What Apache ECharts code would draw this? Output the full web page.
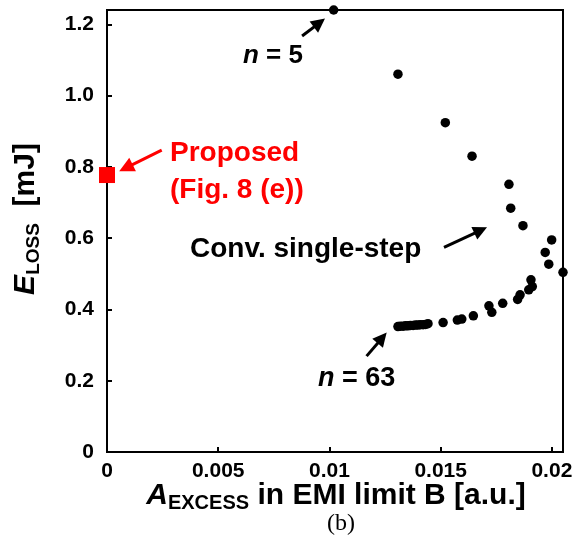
<!DOCTYPE html>
<html>
<head>
<meta charset="utf-8">
<script src="https://cdn.jsdelivr.net/npm/echarts@6/dist/echarts.min.js"></script>
<style>html,body{margin:0;padding:0;background:#fff;}#c{width:578px;height:544px;}</style>
</head>
<body>
<div id="c"></div>
<script>
// Conventional single-step: A_EXCESS (a.u.) and E_LOSS (mJ), n = 5 ... 63
const convX = [0.01019, 0.01308, 0.01521, 0.01641, 0.01807, 0.01815, 0.01870, 0.01999, 0.01970, 0.01986, 0.02050,
  0.01906, 0.01912, 0.01896, 0.01857, 0.01846, 0.01779, 0.01717, 0.01730, 0.01647, 0.01595, 0.01575, 0.01511,
  0.01443, 0.01432, 0.01421, 0.01409, 0.01398, 0.01387, 0.01376, 0.01364, 0.01353, 0.01342, 0.01331, 0.01319, 0.01308];
const convY = [1.240, 1.060, 0.924, 0.830, 0.751, 0.684, 0.635, 0.595, 0.560, 0.527, 0.504,
  0.483, 0.464, 0.455, 0.441, 0.428, 0.417, 0.410, 0.392, 0.382, 0.373, 0.370, 0.363,
  0.360, 0.358, 0.357, 0.357, 0.356, 0.356, 0.355, 0.355, 0.354, 0.354, 0.353, 0.353, 0.352];
// Proposed (Fig. 8 (e))
const propX = [0];
const propY = [0.777];
// Axis ticks
const xTickLabels = ['0', '0.005', '0.01', '0.015', '0.02'];
const yTickLabels = ['0', '0.2', '0.4', '0.6', '0.8', '1.0', '1.2'];
// Annotation arrows [x1, y1, x2, y2] in data units
const arrowN5 = [0.00877, 1.167, 0.00955, 1.204];
const arrowN63 = [0.01167, 0.269, 0.01237, 0.320];
const arrowConv = [0.01515, 0.574, 0.01680, 0.622];
const arrowProp = [0.00246, 0.847, 0.00085, 0.797];

const FONT = "'Liberation Sans', Arial, sans-serif";
const chart = echarts.init(document.getElementById('c'));

function arrow(a) { return [{ coord: [a[0], a[1]] }, { coord: [a[2], a[3]] }]; }

chart.setOption({
  animation: false,
  backgroundColor: '#fff',
  grid: { left: 107, top: 10, right: 15, bottom: 92, show: true, borderColor: '#000', borderWidth: 2 },
  xAxis: {
    type: 'value', min: 0, max: 0.0205, interval: 0.005,
    axisLine: { lineStyle: { color: '#000', width: 2 } },
    axisTick: { inside: true, length: 5, lineStyle: { color: '#000', width: 2 } },
    splitLine: { show: false },
    axisLabel: {
      showMaxLabel: false, margin: 9, color: '#000', fontFamily: FONT, fontWeight: 'bold', fontSize: 21,
      formatter: function (v) { const i = Math.round(v / 0.005); return xTickLabels[i] !== undefined ? xTickLabels[i] : ''; }
    }
  },
  yAxis: {
    type: 'value', min: 0, max: 1.24, interval: 0.2,
    axisLine: { lineStyle: { color: '#000', width: 2 } },
    axisTick: { inside: true, length: 5, lineStyle: { color: '#000', width: 2 } },
    splitLine: { show: false },
    axisLabel: {
      showMaxLabel: false, margin: 13, color: '#000', fontFamily: FONT, fontWeight: 'bold', fontSize: 21,
      formatter: function (v) { const i = Math.round(v / 0.2); return yTickLabels[i] !== undefined ? yTickLabels[i] : ''; }
    }
  },
  series: [
    {
      name: 'Conv. single-step', type: 'scatter', clip: false, symbol: 'circle', symbolSize: 9.5,
      itemStyle: { color: '#000', opacity: 1 },
      data: convX.map((x, i) => [x, convY[i]]),
      markLine: {
        silent: true, animation: false, symbol: ['none', 'triangle'], symbolSize: 14,
        label: { show: false },
        lineStyle: { color: '#000', width: 3, type: 'solid', opacity: 1 },
        data: [arrow(arrowN5), arrow(arrowN63), arrow(arrowConv)]
      }
    },
    {
      name: 'Proposed', type: 'scatter', clip: false, symbol: 'rect', symbolSize: 16,
      itemStyle: { color: '#ff0000', opacity: 1 },
      data: propX.map((x, i) => [x, propY[i]]),
      markLine: {
        silent: true, animation: false, symbol: ['none', 'triangle'], symbolSize: 15,
        label: { show: false },
        lineStyle: { color: '#ff0000', width: 3, type: 'solid', opacity: 1 },
        data: [arrow(arrowProp)]
      }
    }
  ],
  graphic: [
    { type: 'text', x: 243, y: 56, style: { text: '{i|n}{b| = 5}', align: 'left', verticalAlign: 'middle',
      rich: { i: { fontFamily: FONT, fontSize: 26, fontWeight: 'bold', fontStyle: 'italic', fill: '#000' },
              b: { fontFamily: FONT, fontSize: 26, fontWeight: 'bold', fill: '#000' } } } },
    { type: 'text', x: 318, y: 379, style: { text: '{i|n}{b| = 63}', align: 'left', verticalAlign: 'middle',
      rich: { i: { fontFamily: FONT, fontSize: 27, fontWeight: 'bold', fontStyle: 'italic', fill: '#000' },
              b: { fontFamily: FONT, fontSize: 27, fontWeight: 'bold', fill: '#000' } } } },
    { type: 'text', x: 190, y: 249, style: { text: 'Conv. single-step', align: 'left', verticalAlign: 'middle',
      fontFamily: FONT, fontSize: 28, fontWeight: 'bold', fill: '#000' } },
    { type: 'text', x: 170, y: 153, style: { text: 'Proposed', align: 'left', verticalAlign: 'middle',
      fontFamily: FONT, fontSize: 28, fontWeight: 'bold', fill: '#ff0000' } },
    { type: 'text', x: 170, y: 190, style: { text: '(Fig. 8 (e))', align: 'left', verticalAlign: 'middle',
      fontFamily: FONT, fontSize: 28, fontWeight: 'bold', fill: '#ff0000' } },
    { type: 'text', x: 336, y: 496, style: { text: '{a|A}{s|EXCESS}{m| in EMI limit B [a.u.]}', align: 'center', verticalAlign: 'middle',
      rich: { a: { fontFamily: FONT, fontSize: 30, fontWeight: 'bold', fontStyle: 'italic', fill: '#000', lineHeight: 34 },
              s: { fontFamily: FONT, fontSize: 20, fontWeight: 'bold', fill: '#000', lineHeight: 16, verticalAlign: 'bottom' },
              m: { fontFamily: FONT, fontSize: 30, fontWeight: 'bold', fill: '#000', lineHeight: 34 } } } },
    { type: 'text', x: 26, y: 219, rotation: Math.PI / 2, style: { text: '{a|E}{s|LOSS}{m|  [mJ]}', align: 'center', verticalAlign: 'middle',
      rich: { a: { fontFamily: FONT, fontSize: 30, fontWeight: 'bold', fontStyle: 'italic', fill: '#000', lineHeight: 34 },
              s: { fontFamily: FONT, fontSize: 19, fontWeight: 'bold', fill: '#000', lineHeight: 16, verticalAlign: 'bottom' },
              m: { fontFamily: FONT, fontSize: 30, fontWeight: 'bold', fill: '#000', lineHeight: 34 } } } },
    { type: 'text', x: 341, y: 524, style: { text: '(b)', align: 'center', verticalAlign: 'middle',
      fontFamily: "'Liberation Serif', 'Times New Roman', serif", fontSize: 24, fill: '#000' } }
  ]
});
</script>
</body>
</html>
